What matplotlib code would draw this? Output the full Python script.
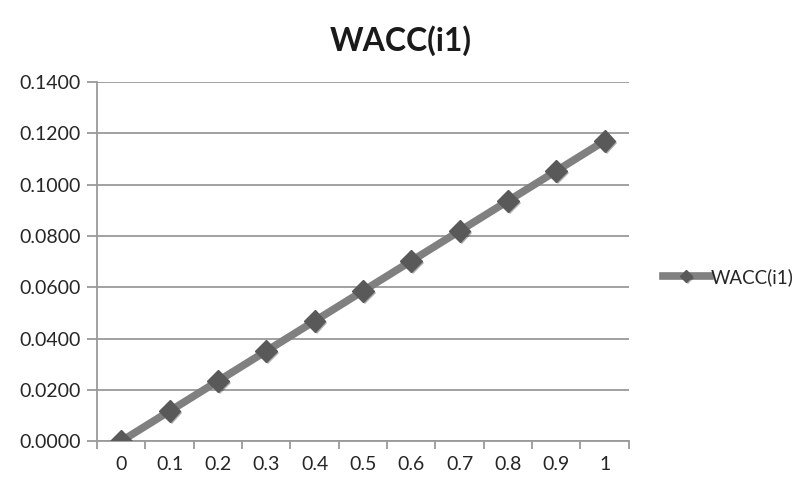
import numpy as np
import matplotlib
matplotlib.use('Agg')
import matplotlib.pyplot as plt
import matplotlib.patheffects as pe

plt.rcParams['font.family'] = ['Lato', 'DejaVu Sans']

# Data
categories = ['0', '0.1', '0.2', '0.3', '0.4', '0.5', '0.6', '0.7', '0.8', '0.9', '1']
wacc_i1 = [0.0000, 0.0117, 0.0234, 0.0351, 0.0468, 0.0585, 0.0702, 0.0819, 0.0936, 0.1053, 0.1170]
y_ticks = [0.00, 0.02, 0.04, 0.06, 0.08, 0.10, 0.12, 0.14]

fig = plt.figure(figsize=(8.02, 4.79), dpi=100)
ax = fig.add_axes([0.121, 0.079, 0.663, 0.750])

x = np.arange(len(categories))
shadow = [pe.SimplePatchShadow(offset=(1.5, -1.5), alpha=0.35), pe.Normal()]
ax.plot(x, wacc_i1, color='#808080', linewidth=5.5, marker='D', markersize=11,
        markerfacecolor='#595959', markeredgecolor='#595959', label='WACC(i1)',
        path_effects=shadow, zorder=3)

ax.set_xlim(-0.5, len(categories) - 0.5)
ax.set_ylim(0, 0.14)
ax.set_yticks(y_ticks)
ax.set_yticklabels([f'{v:.4f}' for v in y_ticks])
ax.set_xticks(x)
ax.set_xticklabels(categories)
ax.set_xticks(np.arange(-0.5, len(categories)), minor=True)

ax.grid(axis='y', color='#9a9a9a', linewidth=1.3)
ax.set_axisbelow(True)
for side in ['top', 'right']:
    ax.spines[side].set_visible(False)
for side in ['left', 'bottom']:
    ax.spines[side].set_color('#9a9a9a')
    ax.spines[side].set_linewidth(1.3)

ax.tick_params(axis='y', length=7, color='#9a9a9a', width=1.3, labelsize=14,
               labelcolor='#262626', pad=5)
ax.tick_params(axis='x', which='major', length=0, labelsize=14,
               labelcolor='#262626', pad=11)
ax.tick_params(axis='x', which='minor', length=6, color='#9a9a9a', width=1.3)

fig.text(0.5, 0.915, 'WACC(i1)', ha='center', va='center',
         fontsize=23, fontweight='bold', color='#1a1a1a')

ax.legend(loc='center left', bbox_to_anchor=(1.05, 0.457), frameon=False,
          fontsize=13.5, handlelength=2.5, handletextpad=0.05, markerscale=0.55,
          labelcolor='#262626', borderaxespad=0)

fig.savefig('out.png', dpi=100)
